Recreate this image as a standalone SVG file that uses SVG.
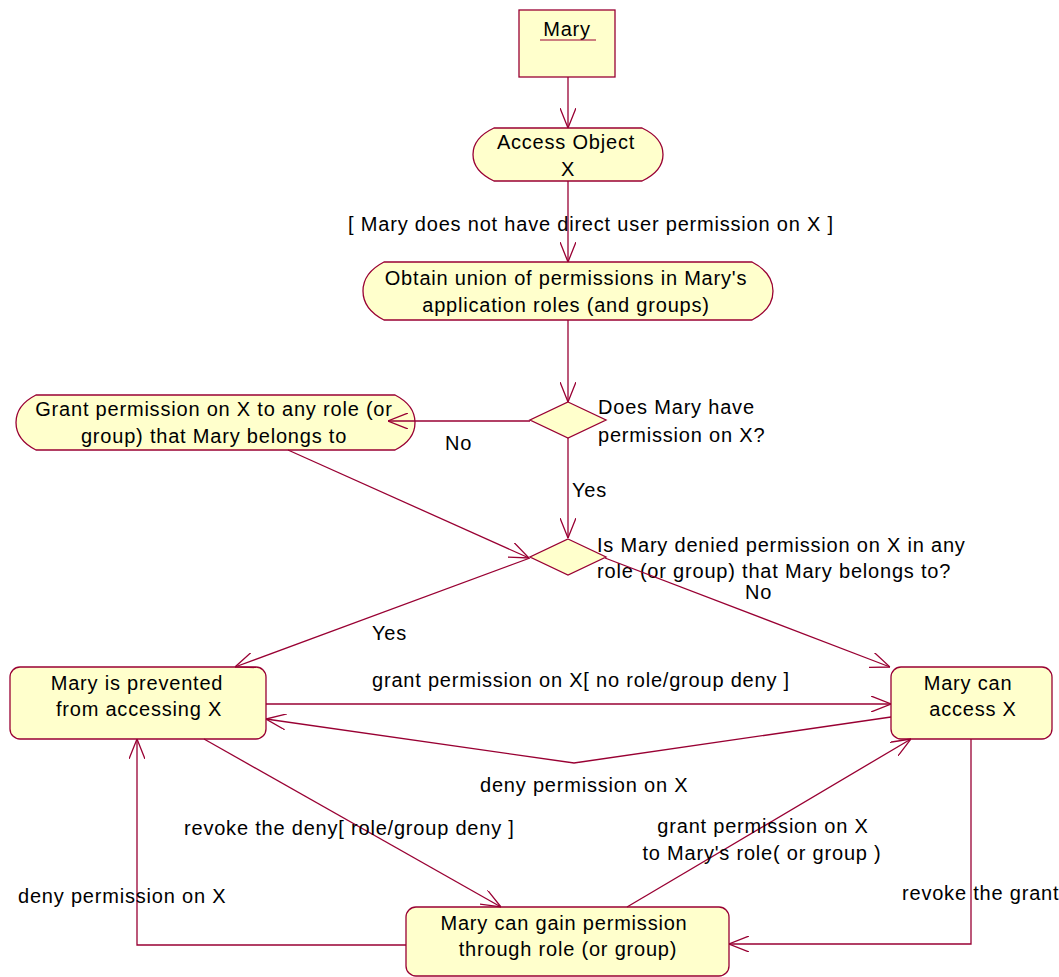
<svg xmlns="http://www.w3.org/2000/svg" width="1059" height="977" viewBox="0 0 1059 977">
<defs>
<style>
text{font-family:"Liberation Sans",Arial,sans-serif;font-size:20px;letter-spacing:0.8px;fill:#000}
.c{text-anchor:middle}
.node{fill:#FFFFCC;stroke:#990033;stroke-width:1.3}
.edge{fill:none;stroke:#990033;stroke-width:1.3}
</style>
<marker id="arr" viewBox="0 0 20 16" refX="20" refY="8" markerWidth="20" markerHeight="16" markerUnits="userSpaceOnUse" orient="auto">
<path d="M0,0 L20,8 L0,16" fill="none" stroke="#990033" stroke-width="1.3"/>
</marker>
</defs>
<rect width="1059" height="977" fill="#fff"/>
<g id="mary">
<rect class="node" x="519" y="10" width="96" height="67"/>
<text class="c" x="567" y="36">Mary</text>
<line x1="540" y1="40" x2="596" y2="40" stroke="#990033" stroke-width="1.2"/>
</g>
<g id="access">
<path class="node" d="M494,128 H642 C655.6,134.4 663,143.9 663,154.5 C663,165.1 655.6,174.6 642,181 H494 C480.4,174.6 473,165.1 473,154.5 C473,143.9 480.4,134.4 494,128 Z"/>
<text class="c" x="566" y="149">Access Object</text>
<text class="c" x="568" y="176">X</text>
</g>
<g id="obtain">
<path class="node" d="M384,262 H752 C765.6,269 773,279.4 773,291 C773,302.6 765.6,313 752,320 H384 C370.4,313 363,302.6 363,291 C363,279.4 370.4,269 384,262 Z"/>
<text class="c" x="566" y="285">Obtain union of permissions in Mary's</text>
<text class="c" x="566" y="312">application roles (and groups)</text>
</g>
<g id="decision1">
<path class="node" d="M568,402 L606,420 L568,438 L530,420 Z"/>
<text x="598" y="414">Does Mary have</text>
<text x="598" y="442">permission on X?</text>
</g>
<g id="grant">
<path class="node" d="M36,395 H395 C408,401.6 415,411.5 415,422.5 C415,433.5 408,443.4 395,450 H36 C23,443.4 16,433.5 16,422.5 C16,411.5 23,401.6 36,395 Z"/>
<text class="c" x="214" y="416">Grant permission on X to any role (or</text>
<text class="c" x="214" y="443">group) that Mary belongs to</text>
</g>
<g id="decision2">
<path class="node" d="M568,539 L606,557 L568,575 L530,557 Z"/>
<text x="597" y="552">Is Mary denied permission on X in any</text>
<text x="597" y="578">role (or group) that Mary belongs to?</text>
</g>
<g id="prevented">
<rect class="node" x="10" y="667" width="256" height="72" rx="10"/>
<text class="c" x="137" y="690">Mary is prevented</text>
<text class="c" x="139" y="716">from accessing X</text>
</g>
<g id="canaccess">
<rect class="node" x="891" y="667" width="161" height="72" rx="10"/>
<text class="c" x="968" y="690">Mary can</text>
<text class="c" x="973" y="716">access X</text>
</g>
<g id="cangain">
<rect class="node" x="406" y="907" width="323" height="69" rx="10"/>
<text class="c" x="564" y="930">Mary can gain permission</text>
<text class="c" x="568" y="956">through role (or group)</text>
</g>
<g id="connectors">
<path class="edge" d="M568,77 V128" marker-end="url(#arr)"/>
<path class="edge" d="M568,181 V262" marker-end="url(#arr)"/>
<path class="edge" d="M568,320 V402" marker-end="url(#arr)"/>
<path class="edge" d="M530,421 H388" style="stroke-width:1.7" marker-end="url(#arr)"/>
<path class="edge" d="M568,438 V538" marker-end="url(#arr)"/>
<path class="edge" d="M288,450 L529,558" marker-end="url(#arr)"/>
<path class="edge" d="M605,558 L890,667" marker-end="url(#arr)"/>
<path class="edge" d="M530,558 L235,667" marker-end="url(#arr)"/>
<path class="edge" d="M266,704 H891" marker-end="url(#arr)"/>
<path class="edge" d="M891,717 L574,763 L266,719" marker-end="url(#arr)"/>
<path class="edge" d="M204,739 L501,907" marker-end="url(#arr)"/>
<path class="edge" d="M406,945 H137 V739" marker-end="url(#arr)"/>
<path class="edge" d="M627,907 L911,739" marker-end="url(#arr)"/>
<path class="edge" d="M971,739 V944 H729" marker-end="url(#arr)"/>
<text class="c" x="591" y="231">[ Mary does not have direct user permission on X ]</text>
<text x="445" y="450">No</text>
<text x="572" y="497">Yes</text>
<text x="372" y="640">Yes</text>
<text x="745" y="599">No</text>
<text x="372" y="687">grant permission on X[ no role/group deny ]</text>
<text x="480" y="792">deny permission on X</text>
<text x="184" y="835">revoke the deny[ role/group deny ]</text>
<text x="18" y="903">deny permission on X</text>
<text class="c" x="763" y="833">grant permission on X</text>
<text class="c" x="762" y="860">to Mary's role( or group )</text>
<text x="902" y="900">revoke the grant</text>
</g>
</svg>
